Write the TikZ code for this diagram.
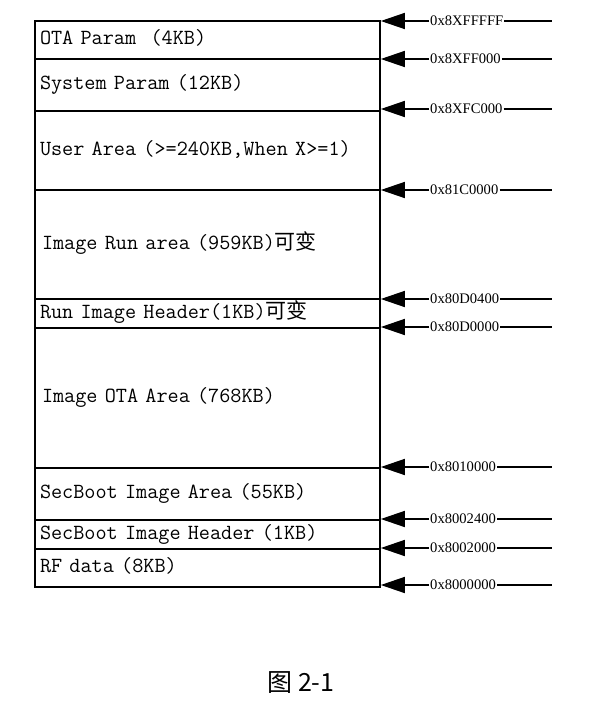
\documentclass[tikz,border=0pt]{standalone}
\usepackage{fontspec}
\usetikzlibrary{arrows.meta}
\newfontfamily\addrfont{Liberation Serif}
\newfontfamily\cjk{Noto Sans CJK SC}

\begin{document}
\begin{tikzpicture}[x=1pt,y=-1pt]
  \useasboundingbox (0,0) rectangle (594,706);
  \tikzstyle{Region}=[draw,line width=1.6pt,anchor=north,minimum width=345pt,
    inner xsep=5pt,inner ysep=0pt,text width=335pt,align=left,
    text height=14pt,text depth=4pt,font=\ttfamily\fontsize{21.6}{24}\selectfont]
  \tikzstyle{Addr}=[anchor=west,inner xsep=1pt,inner ysep=0pt,
    font=\addrfont\fontsize{14.6}{16}\selectfont]
  \tikzstyle{Wire}=[line width=1.5pt]
  \tikzstyle{Pointer}=[line width=1.5pt,-{Triangle[length=24pt,width=16pt]}]
  % memory regions, top to bottom
  \node[Region,minimum height=38pt]  (ota)     at (207.5,20)  {OTA Param\ \ (4KB)};
  \node[Region,minimum height=52pt]  (sys)     at (207.5,58)  {System Param (12KB)};
  \node[Region,minimum height=79pt]  (user)    at (207.5,110) {User Area (>=240KB,When X>=1)};
  \node[Region,minimum height=109pt] (run)     at (207.5,189) {\hspace*{2pt}Image Run area (959KB){\cjk\fontsize{21}{24}\selectfont 可变}};
  \node[Region,minimum height=29pt]  (runhdr)  at (207.5,298) {Run Image Header(1KB){\cjk\fontsize{21}{24}\selectfont 可变}};
  \node[Region,minimum height=140pt] (imgota)  at (207.5,327) {\hspace*{2pt}Image OTA Area (768KB)};
  \node[Region,minimum height=52pt]  (secarea) at (207.5,467) {SecBoot Image Area (55KB)};
  \node[Region,minimum height=29pt]  (sechdr)  at (207.5,519) {SecBoot Image Header (1KB)};
  \node[Region,minimum height=38pt]  (rf)      at (207.5,548) {RF data (8KB)};
  % addresses
  \coordinate (edge) at (552,0);
  \node[Addr] (a1)  at (429,21)  {0x8XFFFFF};
  \node[Addr] (a2)  at (429,59)  {0x8XFF000};
  \node[Addr] (a3)  at (429,109) {0x8XFC000};
  \node[Addr] (a4)  at (429,190) {0x81C0000};
  \node[Addr] (a5)  at (429,299) {0x80D0400};
  \node[Addr] (a6)  at (429,327) {0x80D0000};
  \node[Addr] (a7)  at (429,467) {0x8010000};
  \node[Addr] (a8)  at (429,519) {0x8002400};
  \node[Addr] (a9)  at (429,548) {0x8002000};
  \node[Addr] (a10) at (429,585) {0x8000000};
  \draw[Wire] (a1.east) -- (a1.east -| edge);
  \draw[Pointer] (a1.west) -- (a1.west -| ota.east);
  \draw[Wire] (a2.east) -- (a2.east -| edge);
  \draw[Pointer] (a2.west) -- (a2.west -| ota.east);
  \draw[Wire] (a3.east) -- (a3.east -| edge);
  \draw[Pointer] (a3.west) -- (a3.west -| ota.east);
  \draw[Wire] (a4.east) -- (a4.east -| edge);
  \draw[Pointer] (a4.west) -- (a4.west -| ota.east);
  \draw[Wire] (a5.east) -- (a5.east -| edge);
  \draw[Pointer] (a5.west) -- (a5.west -| ota.east);
  \draw[Wire] (a6.east) -- (a6.east -| edge);
  \draw[Pointer] (a6.west) -- (a6.west -| ota.east);
  \draw[Wire] (a7.east) -- (a7.east -| edge);
  \draw[Pointer] (a7.west) -- (a7.west -| ota.east);
  \draw[Wire] (a8.east) -- (a8.east -| edge);
  \draw[Pointer] (a8.west) -- (a8.west -| ota.east);
  \draw[Wire] (a9.east) -- (a9.east -| edge);
  \draw[Pointer] (a9.west) -- (a9.west -| ota.east);
  \draw[Wire] (a10.east) -- (a10.east -| edge);
  \draw[Pointer] (a10.west) -- (a10.west -| ota.east);
  % caption
  \node[font=\cjk\fontsize{25}{30}\selectfont] (caption) at (301,683) {图 2-1};
\end{tikzpicture}
\end{document}
